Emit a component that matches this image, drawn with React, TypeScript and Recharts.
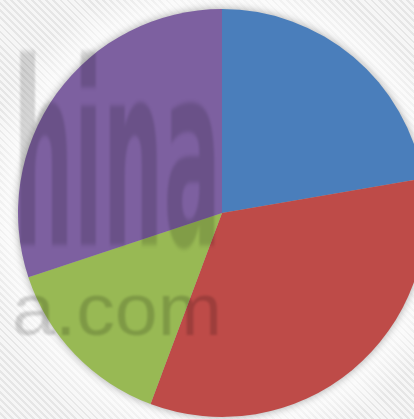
import { PieChart, Pie, Cell } from "recharts"

const categories = ["A", "B", "C", "D"]
const values = [22.3, 33.4, 14.2, 30.1]
const colors = ["#4a7ebb", "#be4b48", "#98b954", "#7d60a0"]
const watermark = ["hina", "a.com"]

const data = categories.map((name, i) => ({ name, value: values[i] }))

export default function App() {
  return (
    <div
      style={{
        position: "absolute",
        left: 0,
        top: 0,
        width: 414,
        height: 419,
        overflow: "hidden",
        background:
          "repeating-linear-gradient(45deg, #f6f6f6 0px, #f6f6f6 3px, #e6e6e6 3px, #e6e6e6 5px)",
      }}
    >
      <div
        style={{
          position: "absolute",
          left: 0,
          top: 0,
          width: 414,
          height: 419,
          background:
            "radial-gradient(circle at 222px 213px, rgba(255,255,255,0.85) 200px, rgba(255,255,255,0) 245px)",
        }}
      />
      <PieChart
        width={414}
        height={419}
        margin={{ top: 0, right: 0, bottom: 0, left: 0 }}
        style={{ position: "absolute", left: 0, top: 0, filter: "drop-shadow(0 0 4px rgba(0,0,0,0.35))" }}
      >
        <Pie
          data={data}
          dataKey="value"
          nameKey="name"
          cx={222}
          cy={213}
          outerRadius={204}
          startAngle={90}
          endAngle={-270}
          stroke="none"
          isAnimationActive={false}
        >
          {data.map((d, i) => (
            <Cell key={d.name} fill={colors[i]} />
          ))}
        </Pie>
      </PieChart>
      <svg
        width={414}
        height={419}
        style={{ position: "absolute", left: 0, top: 0, pointerEvents: "none" }}
      >
        {/* condensed watermark: half size font, stretched 2x vertically */}
        <text
          transform="translate(13 245) scale(1 2)"
          x={0}
          y={0}
          fontFamily="DejaVu Sans"
          fontWeight="bold"
          fontSize={128}
          textLength={208}
          lengthAdjust="spacingAndGlyphs"
          fill="rgba(0,0,0,0.15)"
          style={{ filter: "blur(1px)" }}
        >
          {watermark[0]}
        </text>
        <text
          x={12}
          y={335}
          fontFamily="Liberation Sans"
          fontSize={74}
          textLength={210}
          lengthAdjust="spacingAndGlyphs"
          fill="rgba(0,0,0,0.17)"
          style={{ filter: "blur(0.8px)" }}
        >
          {watermark[1]}
        </text>
      </svg>
    </div>
  )
}
